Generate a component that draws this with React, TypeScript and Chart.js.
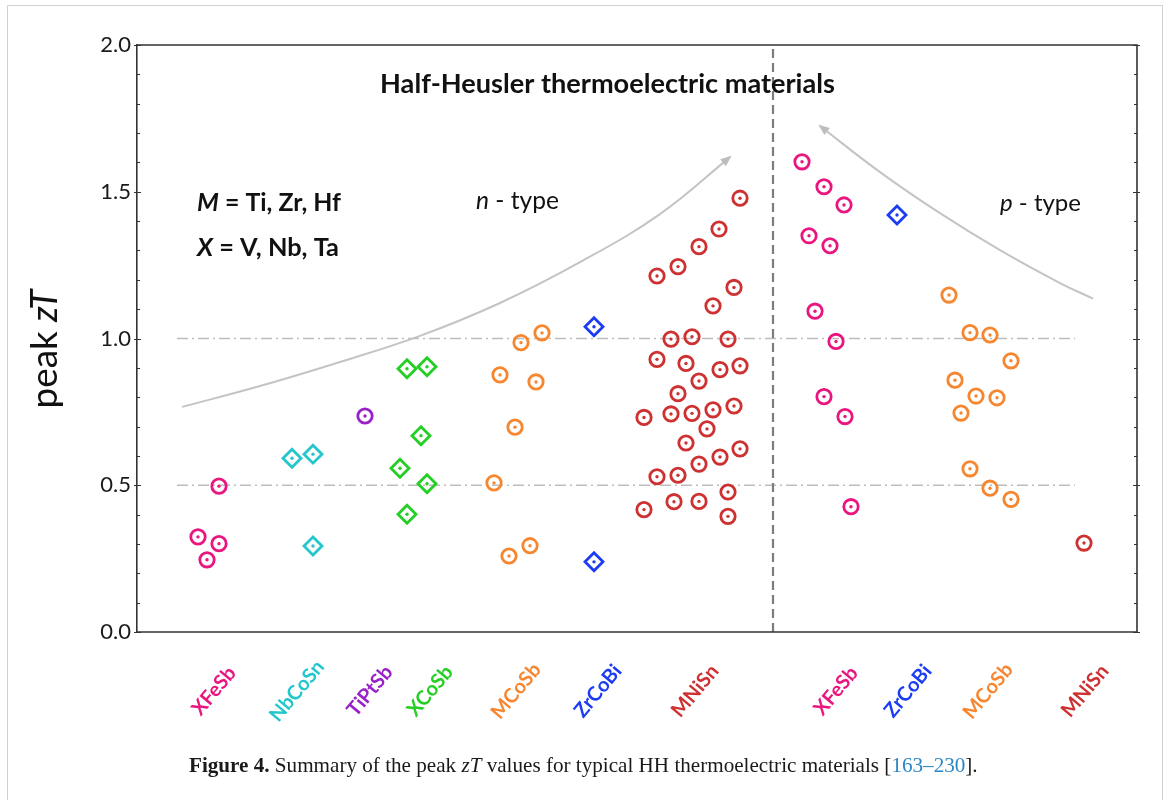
import { useEffect, useRef } from 'react';
import { Chart, registerables } from 'chart.js';

Chart.register(...registerables);

// ---------- data (x: position along the category axis 0..100, y: peak zT) ----------
const yMin = 0;
const yMax = 2;
const yStep = 0.1;
const yMajorTicks = [0, 0.5, 1.0, 1.5, 2.0];
const xMin = 0;
const xMax = 100;

const XFeSb_n = [[8.2, 0.497], [6.1, 0.324], [8.2, 0.301], [7.0, 0.246]];
const NbCoSn_n = [[15.5, 0.592], [17.6, 0.606], [17.6, 0.293]];
const TiPtSb_n = [[22.8, 0.736]];
const XCoSb_n = [[27.0, 0.897], [29.0, 0.904], [28.4, 0.669], [26.3, 0.558], [29.0, 0.505], [27.0, 0.401]];
const MCoSb_n = [[40.5, 1.019], [38.4, 0.986], [36.3, 0.876], [39.9, 0.852], [37.8, 0.698], [35.7, 0.508], [39.3, 0.294], [37.2, 0.259]];
const ZrCoBi_n = [[45.7, 1.040], [45.7, 0.239]];
const MNiSn_n = [
  [60.3, 1.478], [58.2, 1.373], [56.2, 1.313], [54.1, 1.245], [52.0, 1.213], [59.7, 1.174], [57.6, 1.111],
  [53.4, 0.998], [55.5, 1.006], [59.1, 0.998], [52.0, 0.929], [54.9, 0.915], [58.3, 0.894], [60.3, 0.907],
  [56.2, 0.855], [54.1, 0.812], [50.7, 0.731], [53.4, 0.743], [55.5, 0.745], [57.6, 0.757], [59.7, 0.770],
  [57.0, 0.692], [54.9, 0.644], [60.3, 0.624], [58.3, 0.596], [56.2, 0.572], [52.0, 0.529], [54.1, 0.534],
  [59.1, 0.477], [53.7, 0.444], [56.2, 0.445], [50.7, 0.417], [59.1, 0.394],
];
const XFeSb_p = [[66.5, 1.602], [68.7, 1.517], [70.7, 1.455], [67.2, 1.350], [69.3, 1.316], [67.8, 1.093], [69.9, 0.990], [68.7, 0.802], [70.8, 0.734], [71.4, 0.427]];
const ZrCoBi_p = [[76.0, 1.421]];
const MCoSb_p = [[81.2, 1.148], [83.3, 1.020], [85.3, 1.012], [87.4, 0.924], [81.8, 0.858], [83.9, 0.804], [86.0, 0.798], [82.4, 0.746], [83.3, 0.556], [85.3, 0.490], [87.4, 0.452]];
const MNiSn_p = [[94.7, 0.303]];

const categoryNames = ['XFeSb', 'NbCoSn', 'TiPtSb', 'XCoSb', 'MCoSb', 'ZrCoBi', 'MNiSn', 'XFeSb', 'ZrCoBi', 'MCoSb', 'MNiSn'];
const categoryPositions = [7.7, 16.0, 23.3, 29.3, 37.9, 46.1, 55.8, 69.9, 77.1, 85.1, 94.8];

const referenceLevels = [0.5, 1.0];
const referenceSpan = [4.0, 93.8];
const dividerX = 63.6;

// trend arrows (points listed left to right)
const nTypeArrow = [[4.5, 0.767], [12.3, 0.838], [20.3, 0.920], [28.3, 1.009], [36.3, 1.121], [44.3, 1.260], [52.3, 1.424], [59.3, 1.618]];
const pTypeArrow = [[68.3, 1.724], [74.3, 1.567], [80.3, 1.427], [86.3, 1.301], [92.3, 1.189], [95.6, 1.136]];

// ---------- styles ----------
const MAGENTA = '#EA1680';
const CYAN = '#22C6CB';
const PURPLE = '#9A21C9';
const GREEN = '#22CF22';
const ORANGE = '#F6862F';
const BLUE = '#1B3CF3';
const RED = '#CD3131';

const seriesList = [
  { pts: XFeSb_n, color: MAGENTA, marker: 'circle' },
  { pts: NbCoSn_n, color: CYAN, marker: 'diamond' },
  { pts: TiPtSb_n, color: PURPLE, marker: 'circle' },
  { pts: XCoSb_n, color: GREEN, marker: 'diamond' },
  { pts: MCoSb_n, color: ORANGE, marker: 'circle' },
  { pts: ZrCoBi_n, color: BLUE, marker: 'diamond' },
  { pts: MNiSn_n, color: RED, marker: 'circle' },
  { pts: XFeSb_p, color: MAGENTA, marker: 'circle' },
  { pts: ZrCoBi_p, color: BLUE, marker: 'diamond' },
  { pts: MCoSb_p, color: ORANGE, marker: 'circle' },
  { pts: MNiSn_p, color: RED, marker: 'circle' },
];
const categoryColors = [MAGENTA, CYAN, PURPLE, GREEN, ORANGE, BLUE, RED, MAGENTA, BLUE, ORANGE, RED];

const SANS = 'Lato, "Open Sans", sans-serif';
const SERIF = '"Liberation Serif", "DejaVu Serif", serif';

type Run = { text: string; bold?: boolean; italic?: boolean; color?: string };

function drawRuns(ctx: CanvasRenderingContext2D, runs: Run[], x: number, y: number, size: number, family: string, align: 'left' | 'center', fitWidth?: number) {
  const fontFor = (r: Run, s: number) => `${r.italic ? 'italic ' : ''}${r.bold ? 'bold ' : ''}${s}px ${family}`;
  const measure = (s: number) => runs.reduce((w, r) => { ctx.font = fontFor(r, s); return w + ctx.measureText(r.text).width; }, 0);
  let s = size;
  if (fitWidth) s = size * fitWidth / measure(size);
  const total = measure(s);
  let cx = align === 'center' ? x - total / 2 : x;
  ctx.textAlign = 'left';
  ctx.textBaseline = 'alphabetic';
  for (const r of runs) {
    ctx.font = fontFor(r, s);
    ctx.fillStyle = r.color || '#111';
    ctx.fillText(r.text, cx, y);
    cx += ctx.measureText(r.text).width;
  }
}

const isMajor = (v: number) => yMajorTicks.some((m) => Math.abs(m - v) < 1e-6);

function drawHead(ctx: CanvasRenderingContext2D, tip: any, from: { x: number; y: number }) {
  let dx = tip.x - from.x, dy = tip.y - from.y;
  const len = Math.hypot(dx, dy) || 1;
  dx /= len; dy /= len;
  const L = 11, W = 4.5;
  const tx = tip.x + dx * 2, ty = tip.y + dy * 2;
  ctx.save();
  ctx.fillStyle = '#bdbdbd';
  ctx.beginPath();
  ctx.moveTo(tx, ty);
  ctx.lineTo(tx - dx * L - dy * W, ty - dy * L + dx * W);
  ctx.lineTo(tx - dx * L + dy * W, ty - dy * L - dx * W);
  ctx.closePath();
  ctx.fill();
  ctx.restore();
}

const decorPlugin = {
  id: 'decor',
  beforeDraw(chart: any) {
    const { ctx, width, height } = chart;
    ctx.save();
    ctx.fillStyle = '#fff';
    ctx.fillRect(0, 0, width, height);
    ctx.strokeStyle = '#cfcfcf';
    ctx.lineWidth = 1;
    ctx.beginPath();
    ctx.moveTo(7.5, height + 2);
    ctx.lineTo(7.5, 5.5);
    ctx.lineTo(1162.5, 5.5);
    ctx.lineTo(1162.5, height + 2);
    ctx.stroke();
    ctx.restore();
  },
  afterDatasetsDraw(chart: any) {
    const { ctx } = chart;
    chart.data.datasets.forEach((ds: any, i: number) => {
      if (!ds.arrowAt) return;
      const pts = chart.getDatasetMeta(i).data;
      if (ds.arrowAt === 'end') {
        const tip = pts[pts.length - 1];
        const prev = pts[pts.length - 2];
        const ok = tip.cp1x !== undefined && Math.hypot(tip.cp1x - tip.x, tip.cp1y - tip.y) > 0.5;
        drawHead(ctx, tip, ok ? { x: tip.cp1x, y: tip.cp1y } : prev);
      } else {
        const tip = pts[0];
        const next = pts[1];
        const ok = tip.cp2x !== undefined && Math.hypot(tip.cp2x - tip.x, tip.cp2y - tip.y) > 0.5;
        drawHead(ctx, tip, ok ? { x: tip.cp2x, y: tip.cp2y } : next);
      }
    });
  },
  afterDraw(chart: any) {
    const { ctx, chartArea: ca, scales } = chart;
    const ys = scales.y;
    const xs = scales.x;
    ctx.save();
    // frame
    ctx.strokeStyle = '#333';
    ctx.lineWidth = 1.6;
    ctx.beginPath();
    ctx.moveTo(ca.left, ca.top);
    ctx.lineTo(ca.right, ca.top);
    ctx.lineTo(ca.right, ca.bottom);
    ctx.lineTo(ca.left, ca.bottom);
    ctx.stroke();
    // inward ticks
    ctx.lineWidth = 1.2;
    ys.ticks.forEach((t: any) => {
      const py = Math.round(ys.getPixelForValue(t.value)) + 0.5;
      const major = isMajor(t.value);
      ctx.beginPath();
      ctx.moveTo(ca.left - (major ? 3 : 0), py);
      ctx.lineTo(ca.left + (major ? 4 : 3), py);
      ctx.moveTo(ca.right + (major ? 3 : 0), py);
      ctx.lineTo(ca.right - (major ? 4 : 3), py);
      ctx.stroke();
    });
    // category labels
    categoryNames.forEach((name, i) => {
      const px = xs.getPixelForValue(categoryPositions[i]);
      ctx.save();
      ctx.translate(px, 691);
      ctx.rotate(-50 * Math.PI / 180);
      ctx.font = `bold 20px ${SANS}`;
      ctx.fillStyle = categoryColors[i];
      ctx.textAlign = 'center';
      ctx.textBaseline = 'middle';
      ctx.fillText(name, 0, 0);
      ctx.restore();
    });
    // annotations
    drawRuns(ctx, [{ text: 'Half-Heusler thermoelectric materials', bold: true }], 607.5, 93, 23, SANS, 'center', 455);
    drawRuns(ctx, [{ text: 'M', bold: true, italic: true }, { text: ' = Ti, Zr, Hf', bold: true }], 197, 211, 22, SANS, 'left', 144);
    drawRuns(ctx, [{ text: 'X', bold: true, italic: true }, { text: ' = V, Nb, Ta', bold: true }], 197, 256, 22, SANS, 'left', 142);
    drawRuns(ctx, [{ text: 'n', italic: true }, { text: ' - type' }], 476, 209, 22, SANS, 'left', 83);
    drawRuns(ctx, [{ text: 'p', italic: true }, { text: ' - type' }], 1000, 211, 22, SANS, 'left', 81);
    // y axis title
    ctx.save();
    ctx.translate(57, 349);
    ctx.rotate(-Math.PI / 2);
    drawRuns(ctx, [{ text: 'peak ' }, { text: 'zT', italic: true }], 0, 0, 28, SANS, 'center', 119);
    ctx.restore();
    // caption
    drawRuns(ctx, [
      { text: 'Figure 4.', bold: true, color: '#1a1a1a' },
      { text: ' Summary of the peak ', color: '#1a1a1a' },
      { text: 'zT', italic: true, color: '#1a1a1a' },
      { text: ' values for typical HH thermoelectric materials [', color: '#1a1a1a' },
      { text: '163–230', color: '#2B86C5' },
      { text: '].', color: '#1a1a1a' },
    ], 189, 772, 19, SERIF, 'left', 789);
    ctx.restore();
  },
};

export default function App() {
  const ref = useRef<HTMLCanvasElement>(null);
  useEffect(() => {
    document.body.style.margin = '0';
    const canvas = ref.current;
    if (!canvas) return;
    const toXY = (arr: number[][]) => arr.map(([x, y]) => ({ x, y }));
    const datasets: any[] = [];
    referenceLevels.forEach((lvl) => {
      datasets.push({
        data: referenceSpan.map((x) => ({ x, y: lvl })),
        showLine: true, borderColor: '#bdbdbd', borderWidth: 1.5, borderDash: [11, 4, 2, 4],
        pointRadius: 0, order: 9,
      });
    });
    datasets.push({
      data: [{ x: dividerX, y: yMin }, { x: dividerX, y: yMax }],
      showLine: true, borderColor: '#7c7c7c', borderWidth: 2.2, borderDash: [9, 5],
      pointRadius: 0, order: 8,
    });
    datasets.push({
      data: toXY(nTypeArrow), showLine: true, borderColor: '#c4c4c4', borderWidth: 2,
      tension: 0.4, pointRadius: 0, order: 7, arrowAt: 'end',
    });
    datasets.push({
      data: toXY(pTypeArrow), showLine: true, borderColor: '#c4c4c4', borderWidth: 2,
      tension: 0.4, pointRadius: 0, order: 7, arrowAt: 'start',
    });
    seriesList.forEach((s) => {
      const diamond = s.marker === 'diamond';
      datasets.push({
        data: toXY(s.pts), showLine: false,
        pointStyle: diamond ? 'rectRot' : 'circle',
        pointRadius: diamond ? 9 : 7.2,
        pointBorderWidth: 2.8,
        pointBorderColor: s.color,
        pointBackgroundColor: 'rgba(255,255,255,0)',
        borderColor: s.color,
        order: 2,
      });
      datasets.push({
        data: toXY(s.pts), showLine: false,
        pointStyle: 'circle', pointRadius: 1.7, pointBorderWidth: 0,
        pointBackgroundColor: s.color, pointBorderColor: s.color, borderColor: s.color,
        order: 1,
      });
    });
    const chart = new Chart(canvas, {
      type: 'scatter',
      data: { datasets },
      options: {
        responsive: false,
        animation: false,
        devicePixelRatio: 1,
        events: [],
        layout: { padding: { left: 77, top: 45, right: 30, bottom: 168 } },
        plugins: { legend: { display: false }, tooltip: { enabled: false }, title: { display: false } },
        scales: {
          x: { type: 'linear', min: xMin, max: xMax, display: false },
          y: {
            type: 'linear', min: yMin, max: yMax,
            ticks: {
              stepSize: yStep, autoSkip: false, padding: 6, color: '#1a1a1a',
              font: { family: SANS, size: 22 },
              callback: (v: any) => (isMajor(Number(v)) ? Number(v).toFixed(1) : ''),
            },
            grid: { drawOnChartArea: false, drawTicks: false },
            border: { color: '#333', width: 1.6 },
            afterFit: (s: any) => { s.width = 60; },
          },
        },
      } as any,
      plugins: [decorPlugin],
    });
    return () => chart.destroy();
  }, []);
  return <canvas ref={ref} width={1167} height={800} style={{ display: 'block', width: 1167, height: 800 }} />;
}
